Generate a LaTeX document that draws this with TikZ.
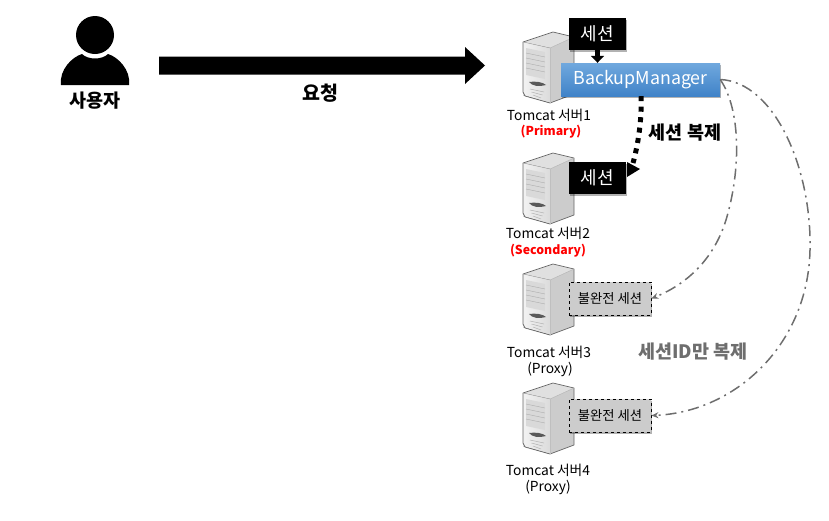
\documentclass[tikz,border=0pt]{standalone}
\usepackage{fontspec}
\setmainfont{Noto Sans CJK KR}
\usetikzlibrary{shadows,arrows.meta,calc}
\definecolor{bmtop}{HTML}{70A8DE}
\definecolor{bmbot}{HTML}{4083C8}
\definecolor{linkgray}{HTML}{6E6E6E}
\tikzset{
  x=1pt,y=-1pt,
  softshadow/.style={drop shadow={shadow xshift=1pt,shadow yshift=-1.5pt,opacity=.3,fill=black}},
  sessbox/.style={fill=black,text=white,minimum width=57pt,minimum height=32pt,inner sep=0,font=\fontsize{18}{18}\selectfont,softshadow},
  partbox/.style={fill=black!20,draw=black,dashed,line width=.8pt,minimum width=82pt,minimum height=33pt,inner sep=0,font=\fontsize{13.3}{14}\selectfont,softshadow},
  srvlabel/.style={font=\fontsize{13.8}{14}\selectfont,inner sep=0},
  rolelabel/.style={font=\fontsize{13.8}{14}\selectfont,inner sep=0},
  redlabel/.style={font=\bfseries\fontsize{12.3}{13}\selectfont,text=red,inner sep=0},
  biglabel/.style={font=\bfseries\fontsize{18.5}{19}\selectfont,inner sep=0},
  idlink/.style={draw=linkgray,line width=1.5pt,dash pattern=on 11pt off 5pt on 2pt off 5pt,-{Stealth[length=7pt,width=6pt]}},
  server/.pic={
    \fill[black!12] (0,10) -- (30,0) -- (51,5) -- (27,16) -- cycle;
    \fill[left color=black!5,right color=black!14] (0,10) -- (27,16) -- (27,71) -- (0,63) -- cycle;
    \fill[black!20] (27,16) -- (51,5) -- (51,62) -- (27,71) -- cycle;
    \draw[black!60,line width=.7pt,line join=round] (0,10) -- (30,0) -- (51,5) -- (51,62) -- (27,71) -- (2,64) -- (0,60) -- cycle;
    \draw[black!30,line width=.4pt] (0,10) -- (27,16) -- (51,5);
    \draw[black!25,line width=.4pt] (27,16) -- (27,71);
    \fill[black!15] (3,16) -- (22,20) -- (22,47) -- (3,43) -- cycle;
    \foreach \k in {0,1,2,3} \draw[black!32,line width=.4pt] (3,{21+\k*5}) -- (22,{25+\k*5});
    \fill[black!65] (6,50) .. controls (12,49) and (20,50) .. (23,53) .. controls (16,55) and (9,54) .. (6,50) -- cycle;
    \foreach \k in {0,1,2} \draw[black!30,line width=.5pt] ({7+\k*1.5},{57+\k*3}) -- ({21-\k*1.5},{60+\k*3});
  }
}
\begin{document}
\begin{tikzpicture}
\useasboundingbox (0,0) rectangle (829,520);
% person
\fill[black] (95,35) circle (19);
\fill[black] (61,85) .. controls (59,70) and (72,57) .. (82,54) .. controls (88,60) and (102,60) .. (108,54) .. controls (118,57) and (131,70) .. (129,85) -- cycle;
\node[biglabel] (user) at (95,101) {사용자};
% big arrow
\coordinate (reqs) at (159,65.5);
\coordinate (reqe) at (485,65.5);
\fill[black] (reqs) ++(0,-9) -- ++(306,0) -- ++(0,-9.5) -- (reqe) -- ++(-20,18.5) -- ++(0,-9.5) -- ++(-306,0) -- cycle;
\node[biglabel,font=\bfseries\fontsize{19.5}{20}\selectfont] (req) at (320,93) {요청};
% servers
\pic at (523,32) {server};
\pic at (523,153) {server};
\pic at (523,264) {server};
\pic at (523,383) {server};
% boxes
\node[sessbox] (s1) at (597.5,34) {\raisebox{-1pt}{세션}};
\node[sessbox] (s2) at (597.5,178) {\raisebox{-1pt}{세션}};
\node[top color=bmtop,bottom color=bmbot,text=white,minimum width=159pt,minimum height=33pt,inner sep=0,font=\fontsize{17.8}{18}\selectfont,softshadow] (bm) at (640.5,79.5) {\raisebox{-1.5pt}{BackupManager}};
\node[partbox] (p3) at (610,298.5) {불완전 세션};
\node[partbox] (p4) at (610,415.5) {불완전 세션};
% labels
\node[srvlabel] (t1) at (549,115) {Tomcat 서버1};
\node[redlabel] (r1) at (551,132) {(Primary)};
\node[srvlabel] (t2) at (548,233) {Tomcat 서버2};
\node[redlabel] (r2) at (548,251) {(Secondary)};
\node[srvlabel] (t3) at (549,352) {Tomcat 서버3};
\node[rolelabel] (r3) at (550,369) {(Proxy)};
\node[srvlabel] (t4) at (548,470) {Tomcat 서버4};
\node[rolelabel] (r4) at (548,487) {(Proxy)};
\node[biglabel] (copy) at (685,133) {세션 복제};
\node[biglabel,text=linkgray] (idcopy) at (693,352) {세션ID만 복제};
% connectors
\draw[line width=4.5pt,-{Triangle[length=7pt,width=13pt]}] (s1.south) -- (s1.south |- bm.north);
\draw[line width=5pt,dash pattern=on 5pt off 5.5pt] ($(bm.south)+(0.5,0)$) .. controls (642,120) and (638,145) .. (633,163);
\coordinate (tipA) at (640,169);
\fill[black] (tipA) -- (627,162) -- (627,177) -- cycle;
\path[idlink] (bm.east) .. controls (741,110) and (741,170) .. (726,220) .. controls (712,265) and (680,287) .. (p3.east);
\path[idlink] (bm.east) .. controls (775,82) and (812,170) .. (810,250) .. controls (808,345) and (735,412) .. (p4.east);
\end{tikzpicture}
\end{document}
